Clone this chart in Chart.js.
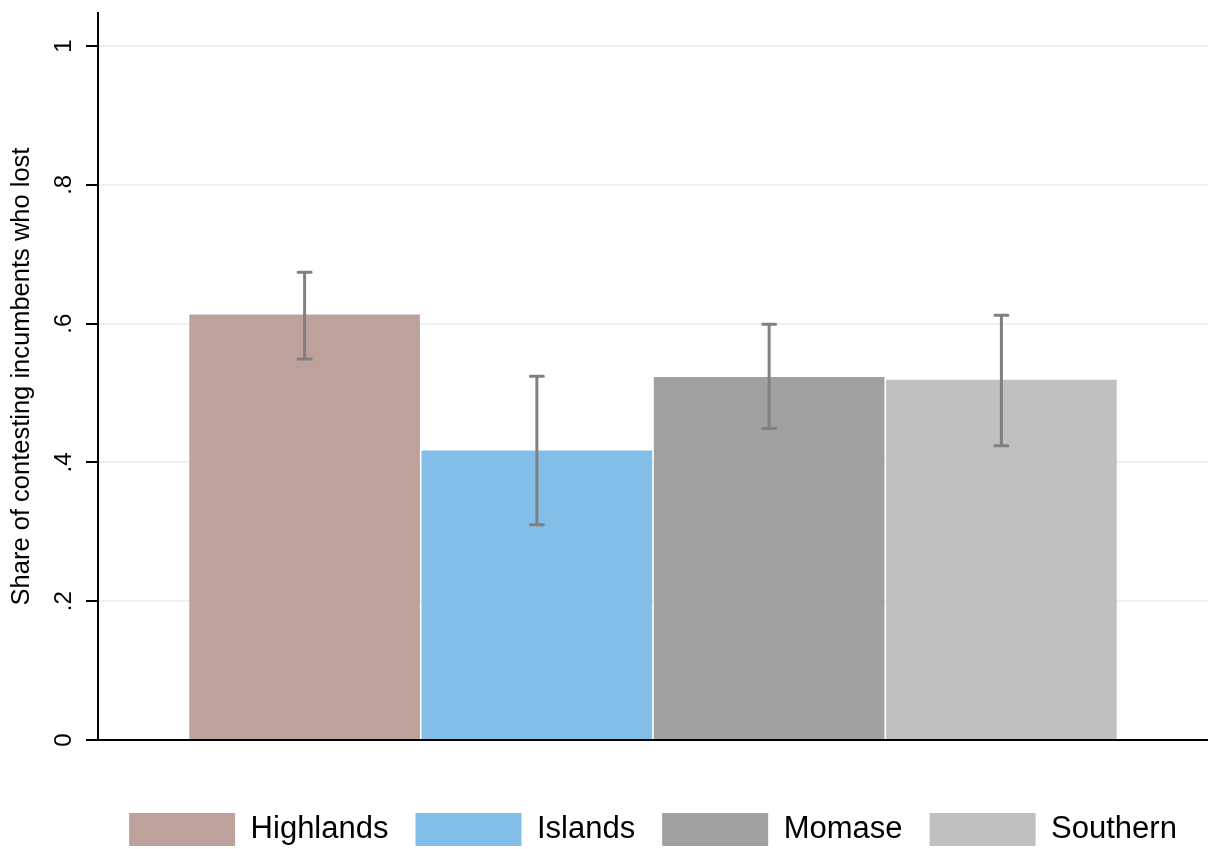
<!DOCTYPE html>
<html>
<head>
<meta charset="utf-8">
<script src="https://cdn.jsdelivr.net/npm/chart.js@4.4.0/dist/chart.umd.min.js"></script>
<style>
  html, body { margin: 0; padding: 0; background: #fff; }
  #wrap { width: 1208px; height: 849px; }
</style>
</head>
<body>
<div id="wrap"><canvas id="myChart"></canvas></div>
<script>
// share of contesting incumbents who lost, by region, with 95% CI
const regions = ['Highlands', 'Islands', 'Momase', 'Southern'];
const shareLost = [0.613, 0.417, 0.523, 0.519];
const ciLow = [0.549, 0.310, 0.449, 0.424];
const ciHigh = [0.674, 0.524, 0.599, 0.612];
const barColors = ['#BDA19B', '#82BEE8', '#A0A0A0', '#C0C0C0'];
const yTicks = [0, 0.2, 0.4, 0.6, 0.8, 1];
const yTickLabels = ['0', '.2', '.4', '.6', '.8', '1'];

Chart.defaults.font.family = "'Liberation Sans', Arial, sans-serif";
Chart.defaults.color = '#000';

// draws the CI whiskers on top of each bar
const errorBars = {
  id: 'errorBars',
  afterDatasetsDraw(chart) {
    const ctx = chart.ctx;
    const y = chart.scales.y;
    ctx.save();
    ctx.strokeStyle = '#808080';
    ctx.lineWidth = 3;
    ctx.lineCap = 'round';
    chart.data.datasets.forEach((ds, i) => {
      const bar = chart.getDatasetMeta(i).data[0];
      const top = y.getPixelForValue(ciHigh[i]);
      const bot = y.getPixelForValue(ciLow[i]);
      ctx.beginPath();
      ctx.moveTo(bar.x, top); ctx.lineTo(bar.x, bot);
      ctx.moveTo(bar.x - 6.5, top); ctx.lineTo(bar.x + 6.5, top);
      ctx.moveTo(bar.x - 6.5, bot); ctx.lineTo(bar.x + 6.5, bot);
      ctx.stroke();
    });
    ctx.restore();
  }
};

new Chart('myChart', {
  type: 'bar',
  data: {
    labels: [''],
    datasets: regions.map((r, i) => ({
      label: r,
      data: [shareLost[i]],
      backgroundColor: barColors[i],
      borderWidth: 0,
      categoryPercentage: 0.837,
      barPercentage: 0.993
    }))
  },
  options: {
    responsive: true,
    maintainAspectRatio: false,
    animation: false,
    events: [],
    layout: { padding: { top: 13, left: 0, right: 0, bottom: 0 } },
    plugins: {
      tooltip: { enabled: false },
      legend: {
        position: 'bottom',
        fullSize: false,
        maxHeight: 63,
        labels: {
          boxWidth: 106,
          boxHeight: 33,
          padding: 27,
          color: '#000',
          font: { size: 31 }
        }
      }
    },
    scales: {
      x: {
        grid: { display: false },
        ticks: { display: false },
        border: { display: true, color: '#000', width: 2 },
        afterFit: s => { s.height = 46; s.paddingLeft = 0; s.paddingRight = 0; }
      },
      y: {
        min: 0,
        max: 1.0476,
        afterBuildTicks: s => { s.ticks = yTicks.map(v => ({ value: v })); },
        afterFit: s => { s.width = 98; s.paddingTop = 0; s.paddingBottom = 0; },
        ticks: {
          minRotation: 90,
          maxRotation: 90,
          crossAlign: 'center',
          padding: 12,
          color: '#000',
          font: { size: 24 },
          callback: (v, i) => yTickLabels[i]
        },
        grid: {
          color: ctx => (ctx.tick && ctx.tick.value === 0) ? 'rgba(0,0,0,0)' : '#EAF2F3',
          lineWidth: 2,
          tickLength: 12,
          tickColor: '#000',
          tickWidth: 2
        },
        border: { display: true, color: '#000', width: 2 },
        title: {
          display: true,
          text: 'Share of contesting incumbents who lost',
          color: '#000',
          font: { size: 25.5 },
          padding: { top: 7, bottom: 0 }
        }
      }
    }
  },
  plugins: [errorBars]
});
</script>
</body>
</html>
